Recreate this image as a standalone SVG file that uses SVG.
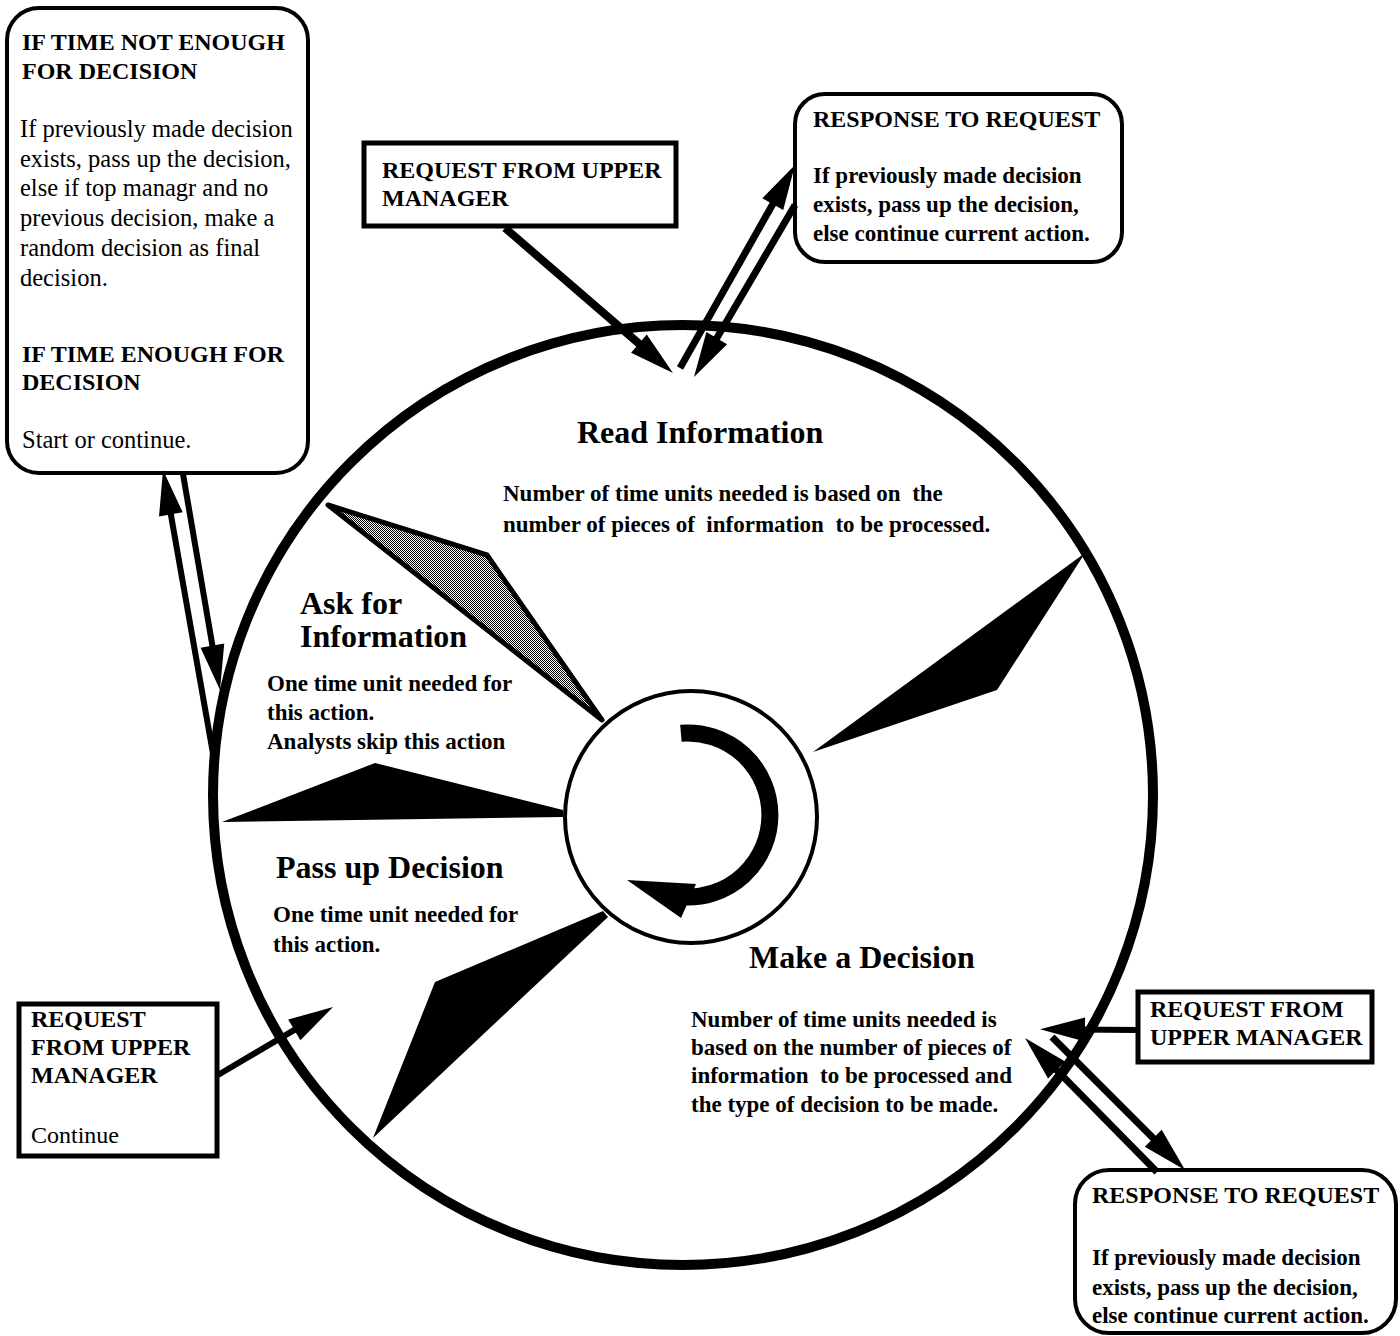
<svg xmlns="http://www.w3.org/2000/svg" width="1400" height="1336" viewBox="0 0 1400 1336">
<style>
text{font-family:"Liberation Serif","Times New Roman",serif;fill:#000}
.h{font-weight:bold;font-size:24px}
.big{font-weight:bold;font-size:32px}
.b{font-weight:bold;font-size:23px}
.r{font-size:24.5px}
.box{fill:#fff;stroke:#000;stroke-width:4}
.sq{fill:#fff;stroke:#000;stroke-width:5}
.con{stroke:#000;fill:none;marker-end:url(#ah)}
.wedge{fill:#000}
</style>
<defs>
<marker id="ah" markerUnits="userSpaceOnUse" markerWidth="60" markerHeight="40" viewBox="-5 -20 60 40" refX="10" refY="0" orient="auto" overflow="visible">
<path d="M0,-12 L45,0 L0,12 Z" fill="#000"/>
</marker>
<pattern id="dots" width="2" height="2" patternUnits="userSpaceOnUse">
<rect width="2" height="2" fill="#fff"/>
<rect width="1" height="1" fill="#000"/>
<rect x="1" y="1" width="1" height="1" fill="#000"/>
</pattern>
</defs>
<rect width="1400" height="1336" fill="#fff"/>

<g id="cycle">
<circle cx="683" cy="795" r="470" fill="none" stroke="#000" stroke-width="10"/>
<polygon class="wedge" points="813,752 1085,553 997,690"/>
<polygon points="328,505 487,555 602,720" fill="url(#dots)" stroke="#000" stroke-width="5" stroke-linejoin="round"/>
<polygon class="wedge" points="222,822 375,763 563,810 563,817"/>
<polygon class="wedge" points="373,1138 435,982 603,911 608,917"/>
<circle cx="691" cy="817" r="126" fill="#fff" stroke="#000" stroke-width="4"/>
<path d="M680.9,733.3 A82,82 0 1 1 680.9,896.7" fill="none" stroke="#000" stroke-width="17"/>
<polygon points="627,880 696,884 681,918" fill="#000"/>
</g>

<g id="n_read">
<text class="big" x="577" y="443">Read Information</text>
<text class="b" x="503" y="501" xml:space="preserve">Number of time units needed is based on  the</text>
<text class="b" x="503" y="532" xml:space="preserve">number of pieces of  information  to be processed.</text>
</g>

<g id="n_ask">
<text class="big" x="300" y="614">Ask for</text>
<text class="big" x="300" y="647">Information</text>
<text class="b" x="267" y="691">One time unit needed for</text>
<text class="b" x="267" y="720">this action.</text>
<text class="b" x="267" y="749">Analysts skip this action</text>
</g>

<g id="n_pass">
<text class="big" x="276" y="878">Pass up Decision</text>
<text class="b" x="273" y="922">One time unit needed for</text>
<text class="b" x="273" y="952">this action.</text>
</g>

<g id="n_make">
<text class="big" x="749" y="968">Make a Decision</text>
<text class="b" x="691" y="1027">Number of time units needed is</text>
<text class="b" x="691" y="1055">based on the number of pieces of</text>
<text class="b" x="691" y="1083" xml:space="preserve">information  to be processed and</text>
<text class="b" x="691" y="1112">the type of decision to be made.</text>
</g>

<g id="n_time">
<rect class="box" x="7" y="8" width="301" height="465" rx="32"/>
<text class="h" x="22" y="50">IF TIME NOT ENOUGH</text>
<text class="h" x="22" y="79">FOR DECISION</text>
<text class="r" x="20" y="137">If previously made decision</text>
<text class="r" x="20" y="167">exists, pass up the decision,</text>
<text class="r" x="20" y="196">else if top managr and no</text>
<text class="r" x="20" y="226">previous decision, make a</text>
<text class="r" x="20" y="256">random decision as final</text>
<text class="r" x="20" y="286">decision.</text>
<text class="h" x="22" y="362">IF TIME ENOUGH FOR</text>
<text class="h" x="22" y="390">DECISION</text>
<text class="r" x="22" y="448">Start or continue.</text>
</g>

<g id="n_req_top">
<rect class="sq" x="364" y="143" width="312" height="83"/>
<text class="h" x="382" y="178">REQUEST FROM UPPER</text>
<text class="h" x="382" y="206">MANAGER</text>
</g>

<g id="n_resp_top">
<rect class="box" x="795" y="94" width="327" height="168" rx="30"/>
<text class="h" x="813" y="127">RESPONSE TO REQUEST</text>
<text class="b" x="813" y="183">If previously made decision</text>
<text class="b" x="813" y="212">exists, pass up the decision,</text>
<text class="b" x="813" y="241">else continue current action.</text>
</g>

<g id="n_req_left">
<rect class="sq" x="19" y="1004" width="198" height="152"/>
<text class="h" x="31" y="1027">REQUEST</text>
<text class="h" x="31" y="1055">FROM UPPER</text>
<text class="h" x="31" y="1083">MANAGER</text>
<text x="31" y="1143" style="font-size:24px">Continue</text>
</g>

<g id="n_req_right">
<rect class="sq" x="1138" y="992" width="234" height="70"/>
<text class="h" x="1150" y="1017">REQUEST FROM</text>
<text class="h" x="1150" y="1045">UPPER MANAGER</text>
</g>

<g id="n_resp_bottom">
<rect class="box" x="1075" y="1170" width="321" height="163" rx="34"/>
<text class="h" x="1092" y="1203">RESPONSE TO REQUEST</text>
<text class="b" x="1092" y="1265">If previously made decision</text>
<text class="b" x="1092" y="1295">exists, pass up the decision,</text>
<text class="b" x="1092" y="1323">else continue current action.</text>
</g>

<g id="connectors">
<line class="con" x1="505" y1="228" x2="646.5" y2="350.1" stroke-width="8"/>
<line class="con" x1="680" y1="368" x2="777.7" y2="195.5" stroke-width="7"/>
<line class="con" x1="795" y1="205" x2="711.7" y2="346.8" stroke-width="7"/>
<line class="con" x1="215" y1="765" x2="169.1" y2="504.5" stroke-width="6"/>
<line class="con" x1="183" y1="474" x2="214.1" y2="655.5" stroke-width="6"/>
<line class="con" x1="218" y1="1075" x2="302.9" y2="1024.8" stroke-width="6"/>
<line class="con" x1="1137" y1="1030" x2="1075" y2="1029.5" stroke-width="6"/>
<line class="con" x1="1157" y1="1172" x2="1049.6" y2="1062.9" stroke-width="7"/>
<line class="con" x1="1052" y1="1037" x2="1160.3" y2="1145.3" stroke-width="7"/>
</g>
</svg>
